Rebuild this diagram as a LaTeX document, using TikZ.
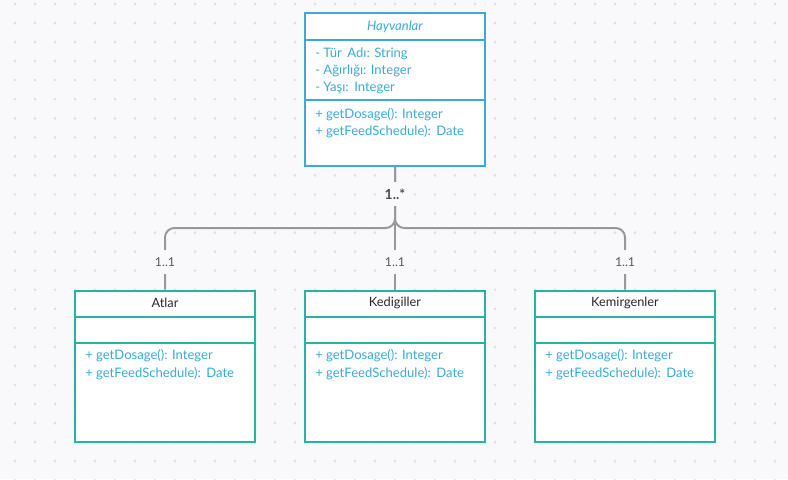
\documentclass[tikz,border=0pt]{standalone}
\usepackage{fontspec}
\setmainfont{Lato}
\usepackage{xcolor}
\definecolor{bgpaper}{RGB}{249,249,251}
\definecolor{griddot}{RGB}{222,222,228}
\definecolor{umlblue}{RGB}{58,170,216}
\definecolor{umlteal}{RGB}{38,178,165}
\definecolor{conngray}{RGB}{152,152,152}
\definecolor{namedark}{RGB}{40,40,56}
\tikzset{
  classbox/.style={draw, line width=1.5pt, fill=white, inner sep=0pt, minimum width=135pt},
  member/.style={anchor=west, inner sep=0pt, font=\fontsize{9.8}{11}\selectfont, text=umlblue},
  classname/.style={inner sep=0pt, font=\fontsize{9.6}{11}\selectfont, text=namedark},
  conn/.style={draw=conngray, line width=1.5pt, rounded corners=7pt},
  mult/.style={fill=bgpaper, inner xsep=2pt, inner ysep=0pt, minimum height=18pt, font=\fontsize{9.2}{11}\selectfont, text=black!65}
}
\begin{document}
\begin{tikzpicture}[x=0.75pt,y=0.75pt,yscale=-1,xscale=1]
% paper and dot grid
\fill[bgpaper] (0,0) rectangle (788,479);
\useasboundingbox (0,0) rectangle (788,479);
\foreach \gx in {15,35,...,775}
  \foreach \gy in {0,...,25}
    \fill[griddot] (\gx,4+19.05*\gy) circle (1.1pt);

% parent class
\node[classbox, draw=umlblue, minimum height=114.75pt] (hay) at (395,89.5) {};
\draw[umlblue, line width=1.5pt] (305,40) -- (485,40) (305,100) -- (485,100);
\node[classname, text=umlblue, font=\fontsize{9.8}{11}\selectfont\itshape] (hayname) at (395,27) {Hayvanlar};
\node[member] (hayA) at (315,54) {- Tür\,\ Adı: String};
\node[member] (hayB) at (315,71) {- Ağırlığı: Integer};
\node[member] (hayC) at (315,88) {- Yaşı:\,\ Integer};
\node[member] (hayD) at (315,115) {+ getDosage(): Integer};
\node[member] (hayE) at (315,132) {+ getFeedSchedule):\,\ Date};

% child classes
\foreach \cx/\cn/\ct in {165/atl/Atlar,395/ked/Kedigiller,625/kem/Kemirgenler}{
  \node[classbox, draw=umlteal, minimum height=113.25pt] (\cn) at (\cx,366) {};
  \draw[umlteal, line width=1.5pt] (\cx-90,317) -- (\cx+90,317) (\cx-90,343) -- (\cx+90,343);
  \node[classname] (\cn name) at (\cx,303) {\ct};
  \node[member] (\cn A) at (\cx-80,356) {+ getDosage(): Integer};
  \node[member] (\cn B) at (\cx-80,374) {+ getFeedSchedule):\,\ Date};
}

% associations
\coordinate (bus) at (395,228);
\draw[conn] (hay.south) -- (bus) -| (atl.north);
\draw[conn] (hay.south) -- (bus) -| (kem.north);
\draw[conn] (hay.south) -- (ked.north);
\node[mult, font=\fontsize{10.4}{12}\selectfont\bfseries, text=black!70] (mstar) at (395,194) {1..*};
\node[mult] (matl) at (165,262) {1..1};
\node[mult] (mked) at (395,262) {1..1};
\node[mult] (mkem) at (625,262) {1..1};
\end{tikzpicture}
\end{document}
